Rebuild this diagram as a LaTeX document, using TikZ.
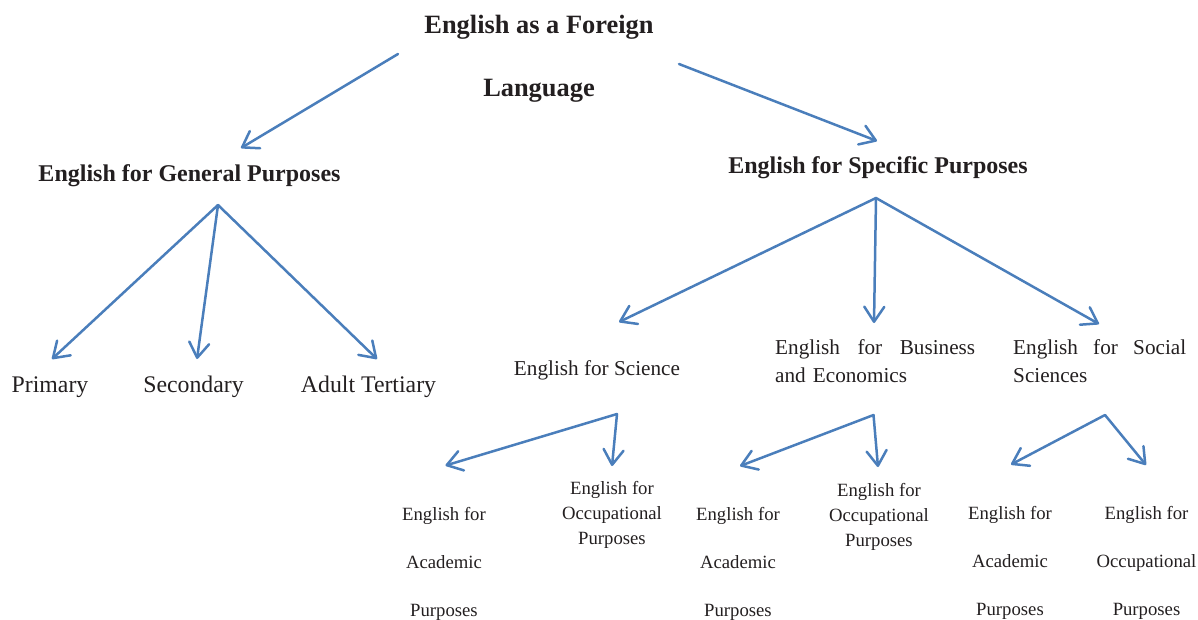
\documentclass[tikz,border=0pt]{standalone}
\usepackage{fontspec}
\setmainfont{Liberation Serif}
\usetikzlibrary{arrows.meta}
\definecolor{linkblue}{HTML}{4A7EBB}
\definecolor{ink}{HTML}{231F20}
\begin{document}
\begin{tikzpicture}[x=1pt,y=-1pt,
  every node/.style={text=ink, inner sep=0pt, anchor=base},
  titlebox/.style={font=\bfseries\fontsize{26.4}{63}\selectfont, align=center},
  headbox/.style={font=\bfseries\fontsize{24}{28}\selectfont},
  levelbox/.style={font=\fontsize{23.8}{28}\selectfont},
  fieldbox/.style={font=\fontsize{21.2}{28.4}\selectfont, align=left},
  leafwide/.style={font=\fontsize{18.7}{47.8}\selectfont, align=center},
  leaftight/.style={font=\fontsize{18.7}{25}\selectfont, align=center},
  link/.style={draw=linkblue, line width=2.5pt, line cap=round, line join=round,
    -{Straight Barb[length=15pt, width=20pt, round]}}]
\useasboundingbox (0,0) rectangle (1198,619);

% text (multi-line centred nodes sit on the baseline of their last line)
\node[titlebox] (efl) at (539,96) {English as a Foreign\\Language};
\node[headbox] (egp) at (189.5,181.7) {English for General Purposes};
\node[headbox] (esp) at (878,173.3) {English for Specific Purposes};

\node[levelbox] (pri) at (50,392.7) {Primary};
\node[levelbox] (sec) at (193.5,392.7) {Secondary};
\node[levelbox] (adt) at (368.5,392.7) {Adult Tertiary};

\node[fieldbox] (sci) at (597,375.7) {English for Science};
\node[fieldbox, text width=200pt, anchor=base west] (bus) at (775,354.3)
  {English\hfill for\hfill Business\\and Economics};
\node[fieldbox, text width=173pt, anchor=base west] (soc) at (1013,354.3)
  {English\hfill for\hfill Social\\Sciences};

\node[leafwide]  (sciA) at (444,616) {English for\\Academic\\Purposes};
\node[leaftight] (sciO) at (612,544) {English for\\Occupational\\Purposes};
\node[leafwide]  (busA) at (738,616) {English for\\Academic\\Purposes};
\node[leaftight] (busO) at (879,546.5) {English for\\Occupational\\Purposes};
\node[leafwide]  (socA) at (1010,615.5) {English for\\Academic\\Purposes};
\node[leafwide]  (socO) at (1146.5,615.5) {English for\\Occupational\\Purposes};

% connector ends
\coordinate (eflL) at (398,54);
\coordinate (eflR) at (679,64);
\coordinate (egpIn) at (241,148);
\coordinate (espIn) at (877,141);
\coordinate (egpOut) at (218,205);
\coordinate (priIn) at (52,359);
\coordinate (secIn) at (197,359);
\coordinate (adtIn) at (377,359);
\coordinate (espOut) at (876,198);
\coordinate (sciIn) at (619,322);
\coordinate (busIn) at (874,323);
\coordinate (socIn) at (1099,324);
\coordinate (sciOut) at (617,414);
\coordinate (sciAIn) at (445.5,465.5);
\coordinate (sciOIn) at (612,466);
\coordinate (busOut) at (873.5,415);
\coordinate (busAIn) at (740,466);
\coordinate (busOIn) at (878,467);
\coordinate (socOut) at (1105,415);
\coordinate (socAIn) at (1011,464.5);
\coordinate (socOIn) at (1146,465);

% connectors
\draw[link] (eflL) -- (egpIn);
\draw[link] (eflR) -- (espIn);
\draw[link] (egpOut) -- (priIn);
\draw[link] (egpOut) -- (secIn);
\draw[link] (egpOut) -- (adtIn);
\draw[link] (espOut) -- (sciIn);
\draw[link] (espOut) -- (busIn);
\draw[link] (espOut) -- (socIn);
\draw[link] (sciOut) -- (sciAIn);
\draw[link] (sciOut) -- (sciOIn);
\draw[link] (busOut) -- (busAIn);
\draw[link] (busOut) -- (busOIn);
\draw[link] (socOut) -- (socAIn);
\draw[link] (socOut) -- (socOIn);
\end{tikzpicture}
\end{document}
